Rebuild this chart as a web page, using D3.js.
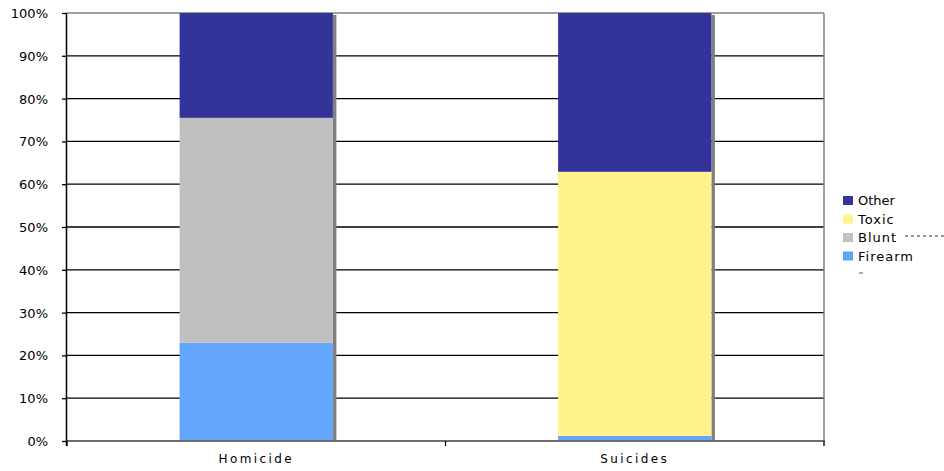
<!DOCTYPE html>
<html><head><meta charset="utf-8">
<script src="https://cdn.jsdelivr.net/npm/d3@7"></script>
<style>body{margin:0;background:#fff;}svg{display:block;font-family:"DejaVu Sans",Verdana,sans-serif;}</style>
</head><body>
<script>
const categories = ["Homicide", "Suicides"];
const seriesNames = ["Firearm", "Blunt", "Toxic", "Other"];
const firearm = [23.0, 1.2];
const blunt = [52.5, 0];
const toxic = [0, 61.7];
const other = [24.5, 37.1];
const yTicks = [0, 10, 20, 30, 40, 50, 60, 70, 80, 90, 100];
const colors = {Firearm: "#62a6fe", Blunt: "#c0c0c0", Toxic: "#fff38e", Other: "#333399"};
const legendOrder = ["Other", "Toxic", "Blunt", "Firearm"];

const W = 944, H = 471;
const m = {left: 67, right: 120, top: 13, bottom: 30};
const svg = d3.select("body").append("svg").attr("width", W).attr("height", H);

const x = d3.scaleBand().domain(categories).range([m.left, 824]).paddingInner(0).paddingOuter(0);
const y = d3.scaleLinear().domain([0, 100]).range([441, m.top]);

const rows = categories.map((c, i) => ({cat: c, Firearm: firearm[i], Blunt: blunt[i], Toxic: toxic[i], Other: other[i]}));
const stacked = d3.stack().keys(seriesNames)(rows);

// gridlines
svg.append("g").selectAll("line").data(yTicks.filter(t => t > 0)).join("line")
  .attr("x1", m.left).attr("x2", 824).attr("y1", d => y(d)).attr("y2", d => y(d))
  .attr("stroke", d => d === 100 ? "#808080" : "#000").attr("stroke-width", 1.3);

// right border
svg.append("line").attr("x1", 824).attr("x2", 824).attr("y1", y(100)).attr("y2", y(0))
  .attr("stroke", "#808080").attr("stroke-width", 1.5);

const barW = x.bandwidth() * 0.405;
// shadows
svg.append("g").selectAll("rect").data(categories).join("rect")
  .attr("x", d => x(d) + x.bandwidth() / 2 + barW / 2)
  .attr("y", y(100) + 2)
  .attr("width", 3.5)
  .attr("height", y(0) - y(100) - 2)
  .attr("fill", "#808080");

// bars
svg.append("g").selectAll("g").data(stacked).join("g")
  .attr("fill", d => colors[d.key])
  .selectAll("rect").data(d => d).join("rect")
  .attr("x", d => x(d.data.cat) + x.bandwidth() / 2 - barW / 2)
  .attr("y", d => y(d[1]))
  .attr("width", barW)
  .attr("height", d => y(d[0]) - y(d[1]));

// bottom axis line
svg.append("line").attr("x1", m.left).attr("x2", 825).attr("y1", y(0)).attr("y2", y(0))
  .attr("stroke", "#6e6e6e").attr("stroke-width", 2);

// y axis
const yAxis = d3.axisLeft(y).tickValues(yTicks).tickFormat(d => d + "%").tickSize(5).tickPadding(14);
const ya = svg.append("g").attr("transform", `translate(${m.left},0)`).call(yAxis);
ya.select(".domain").attr("stroke", "#000").attr("stroke-width", 1.5).attr("d", `M-0.5,${y(100)}V${y(0)+5}`);
ya.selectAll(".tick line").attr("stroke", "#000").attr("stroke-width", 1.3);
ya.selectAll("text").attr("font-size", 13).attr("fill", "#000").attr("font-family", "DejaVu Sans").attr("dy", "0.35em");

// x axis
const xa = svg.append("g").attr("transform", `translate(0,${y(0)})`)
  .call(d3.axisBottom(x).tickSize(0).tickPadding(13));
xa.select(".domain").remove();
xa.selectAll("text").attr("font-size", 12).attr("fill", "#000").attr("font-family", "DejaVu Sans")
  .attr("letter-spacing", "2.4px").attr("dy", "0.71em");
// category boundary ticks
const bounds = [x(categories[0]), x(categories[1]), x(categories[1]) + x.bandwidth()];
svg.append("g").selectAll("line").data(bounds).join("line")
  .attr("x1", d => d).attr("x2", d => d).attr("y1", y(0)).attr("y2", y(0) + 5)
  .attr("stroke", "#000").attr("stroke-width", 1.3);

// legend
const lg = svg.append("g").attr("transform", "translate(843,196)");
const items = lg.selectAll("g").data(legendOrder).join("g")
  .attr("transform", (d, i) => `translate(0,${i * 18.5})`);
items.append("rect").attr("width", 10).attr("height", 9).attr("fill", d => colors[d]);
items.append("text").attr("x", 15).attr("y", 9).attr("font-size", 13).attr("fill", "#000")
  .attr("letter-spacing", (d, i) => i === 0 ? "0px" : "1px")
  .text(d => d);
// legend artifacts
svg.append("line").attr("x1", 905).attr("x2", 944).attr("y1", 236).attr("y2", 236)
  .attr("stroke", "#000").attr("stroke-width", 0.8).attr("stroke-dasharray", "3,3");
svg.append("line").attr("x1", 859).attr("x2", 863).attr("y1", 273).attr("y2", 273)
  .attr("stroke", "#555").attr("stroke-width", 1);
</script>
</body></html>
